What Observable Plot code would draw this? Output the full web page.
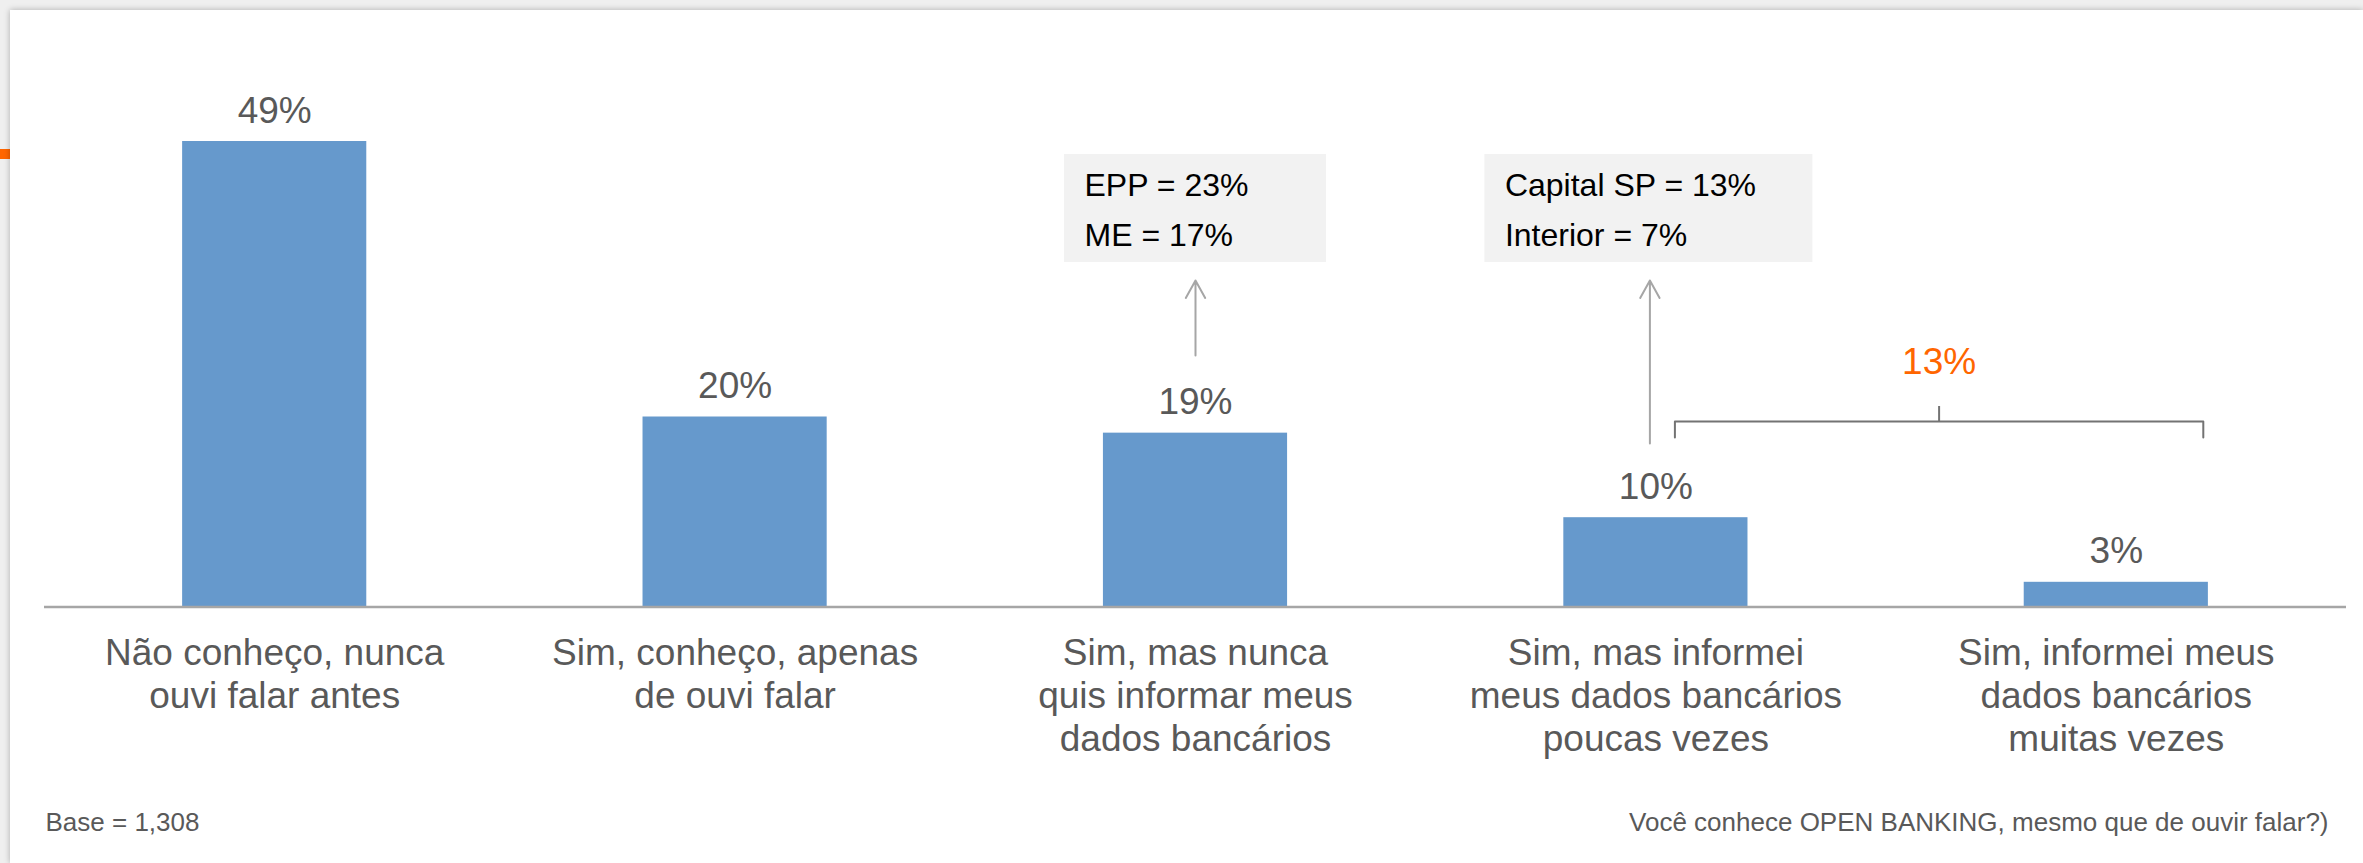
<!DOCTYPE html>
<html><head><meta charset="utf-8">
<script src="https://cdn.jsdelivr.net/npm/d3@7"></script>
<script src="https://cdn.jsdelivr.net/npm/@observablehq/plot@0.6"></script>
<style>
html,body{margin:0;padding:0;width:2363px;height:863px;overflow:hidden;background:#efefef;}
#accent{position:absolute;left:0;top:149px;width:10px;height:10px;background:#ff6600;}
#panel{position:absolute;left:10px;top:10px;width:2353px;height:853px;background:#fff;box-shadow:0 0 6px rgba(0,0,0,0.28);}
#panel svg{display:block;}
</style></head><body>
<div id="accent"></div>
<div id="panel"></div>
<script>
// ---- data ----
const categories = [
  "Não conheço, nunca\nouvi falar antes",
  "Sim, conheço, apenas\nde ouvi falar",
  "Sim, mas nunca\nquis informar meus\ndados bancários",
  "Sim, mas informei\nmeus dados bancários\npoucas vezes",
  "Sim, informei meus\ndados bancários\nmuitas vezes"
];
const values = [49, 20, 18.3, 9.4, 2.6];
const valueLabels = ["49%", "20%", "19%", "10%", "3%"];
const breakdownText = ["EPP = 23%\nME = 17%", "Capital SP = 13%\nInterior = 7%"];
const breakdownCategory = [2, 3];
const combinedLabel = "13%";
const combinedCategories = [3, 4];
const baseNote = "Base = 1,308";
const questionNote = "Você conhece OPEN BANKING, mesmo que de ouvir falar?)";

// ---- layout ----
const W = 2353, H = 853;
const mL = 34, mR = 17, mT = 26.5, mB = 256.5;
const Y_MAX = 60;
const STEP = (W - mL - mR) / categories.length;      // px per category
const PX_Y = (H - mT - mB) / Y_MAX;                  // px per percent
const px = p => p / STEP;                            // px -> x units
const yAt = svgY => (H - mB - svgY) / PX_Y;          // svg px -> y units
const HALF = 0.2;                                    // half bar width in x units

const bars = categories.map((c, i) => ({i, c, v: values[i], label: valueLabels[i]}));

// annotation boxes (positioned around the category they describe)
const boxes = [
  {x1: breakdownCategory[0] - px(131), x2: breakdownCategory[0] + px(131), text: breakdownText[0], ax: breakdownCategory[0], ay1: yAt(345)},
  {x1: breakdownCategory[1] - px(171), x2: breakdownCategory[1] + px(157), text: breakdownText[1], ax: breakdownCategory[1] - px(6), ay1: yAt(433)}
];
const boxTop = yAt(144), boxBottom = yAt(252), arrowTip = yAt(270);

// bracket grouping the last two categories
const bx1 = combinedCategories[0] + px(19);
const bx2 = combinedCategories[1] + px(87);
const bmid = (bx1 + bx2) / 2;
const yH = yAt(411), yEnd = yAt(427), yTick = yAt(396);
const bracket = [{x: bx1, y: yEnd}, {x: bx1, y: yH}, {x: bx2, y: yH}, {x: bx2, y: yEnd}];

const gray = "#595959";
const font = "'Liberation Sans', Arial, sans-serif";

const chart = Plot.plot({
  width: W, height: H,
  marginLeft: mL, marginRight: mR, marginTop: mT, marginBottom: mB,
  style: {fontFamily: font, background: "transparent", overflow: "visible"},
  x: {domain: [-0.5, categories.length - 0.5], axis: null},
  y: {domain: [0, Y_MAX], axis: null},
  marks: [
    Plot.rectY(bars, {x1: d => d.i - HALF, x2: d => d.i + HALF, y: "v", fill: "#6699cc"}),
    Plot.ruleY([0], {stroke: "#a6a6a6", strokeWidth: 2.5}),
    Plot.text(bars, {x: "i", y: "v", text: "label", dy: -19, lineAnchor: "bottom", textAnchor: "middle", fontSize: 37, fill: gray}),
    Plot.text(bars, {x: "i", y: 0, text: "c", dy: 27, lineAnchor: "top", textAnchor: "middle", fontSize: 37, lineHeight: 1.162, fill: gray}),
    // annotation boxes
    Plot.rect(boxes, {x1: "x1", x2: "x2", y1: boxBottom, y2: boxTop, fill: "#f2f2f2"}),
    Plot.text(boxes, {x: "x1", y: boxTop, text: "text", dx: 20, dy: 5.5, lineAnchor: "top", textAnchor: "start", fontSize: 32, lineHeight: 1.5625, fill: "#000"}),
    Plot.arrow(boxes, {x1: "ax", x2: "ax", y1: "ay1", y2: arrowTip, stroke: "#a6a6a6", strokeWidth: 2, headLength: 15, headAngle: 58}),
    // bracket + combined label
    Plot.line(bracket, {x: "x", y: "y", stroke: "#737373", strokeWidth: 2}),
    Plot.ruleX([bmid], {y1: yH, y2: yTick, stroke: "#737373", strokeWidth: 2}),
    Plot.text([combinedLabel], {x: bmid, y: yTick, text: d => d, dy: -33, lineAnchor: "bottom", textAnchor: "middle", fontSize: 37, fill: "#ff6600"}),
    // footer notes
    Plot.text([baseNote], {frameAnchor: "bottom-left", text: d => d, dx: 1, dy: 223.5, lineAnchor: "bottom", textAnchor: "start", fontSize: 26, fill: gray}),
    Plot.text([questionNote], {frameAnchor: "bottom-right", text: d => d, dx: -18, dy: 223.5, lineAnchor: "bottom", textAnchor: "end", fontSize: 26, fill: gray})
  ]
});
document.getElementById("panel").appendChild(chart);
</script>
</body></html>
